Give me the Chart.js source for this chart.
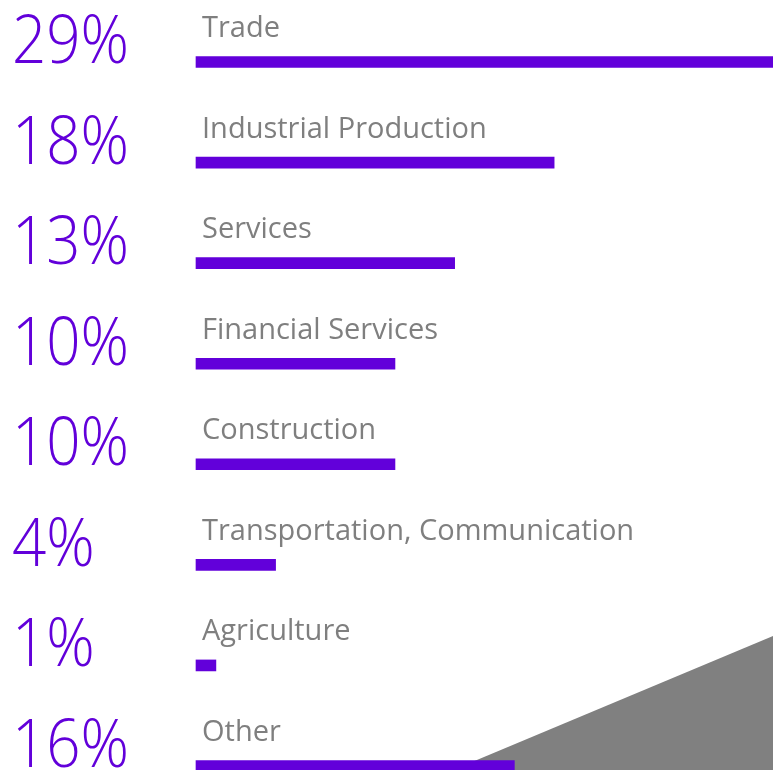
<!DOCTYPE html>
<html>
<head>
<meta charset="utf-8">
<style>
  html, body { margin: 0; padding: 0; background: #ffffff; }
  #wrap { width: 773px; height: 770px; position: relative; overflow: hidden; }
  canvas { display: block; }
</style>
<script src="https://cdn.jsdelivr.net/npm/chart.js@4.4.1/dist/chart.umd.min.js"></script>
</head>
<body>
<div id="wrap"><canvas id="chart" width="773" height="770"></canvas></div>
<script>
// Economy structure by sector, share in percent
const sectors = [
  'Trade',
  'Industrial Production',
  'Services',
  'Financial Services',
  'Construction',
  'Transportation, Communication',
  'Agriculture',
  'Other'
];
const shares = [29, 18, 13, 10, 10, 4, 1, 16];

const PURPLE = '#6200da';
const GREY_TEXT = '#7f7f7f';
const GREY_SHAPE = '#808080';

// Grey wedge in the lower right corner
const cornerWedge = {
  id: 'cornerWedge',
  beforeDatasetsDraw(chart) {
    const { ctx, width, height } = chart;
    ctx.save();
    ctx.fillStyle = GREY_SHAPE;
    ctx.beginPath();
    ctx.moveTo(width * 0.586, height);
    ctx.lineTo(width, height * 0.826);
    ctx.lineTo(width, height);
    ctx.closePath();
    ctx.fill();
    ctx.restore();
  }
};

// Big percentage on the left and the sector name above each bar
const rowLabels = {
  id: 'rowLabels',
  afterDatasetsDraw(chart) {
    const { ctx } = chart;
    const meta = chart.getDatasetMeta(0);
    ctx.save();
    ctx.textAlign = 'left';
    ctx.textBaseline = 'alphabetic';
    meta.data.forEach((bar, i) => {
      const y = bar.y;
      // percentage, slightly condensed light face
      ctx.save();
      ctx.translate(12, y + 1);
      ctx.scale(0.91, 1);
      ctx.fillStyle = PURPLE;
      ctx.font = '300 66px "Open Sans", "Lato", sans-serif';
      ctx.fillText(shares[i] + '%', 0, 0);
      ctx.restore();
      // sector name
      ctx.fillStyle = GREY_TEXT;
      ctx.font = '400 29px "Open Sans", sans-serif';
      ctx.fillText(sectors[i], 202, y - 25);
    });
    ctx.restore();
  }
};

new Chart(document.getElementById('chart'), {
  type: 'bar',
  data: {
    labels: sectors,
    datasets: [{
      data: shares,
      backgroundColor: PURPLE,
      borderWidth: 0,
      barThickness: 11,
      clip: false
    }]
  },
  options: {
    indexAxis: 'y',
    responsive: false,
    animation: false,
    layout: { padding: { left: 196, right: 0, top: 62, bottom: 4 } },
    plugins: { legend: { display: false }, tooltip: { enabled: false } },
    scales: {
      x: { display: false, min: 0, max: 29 },
      y: { display: false, offset: false }
    }
  },
  plugins: [cornerWedge, rowLabels]
});
</script>
</body>
</html>
